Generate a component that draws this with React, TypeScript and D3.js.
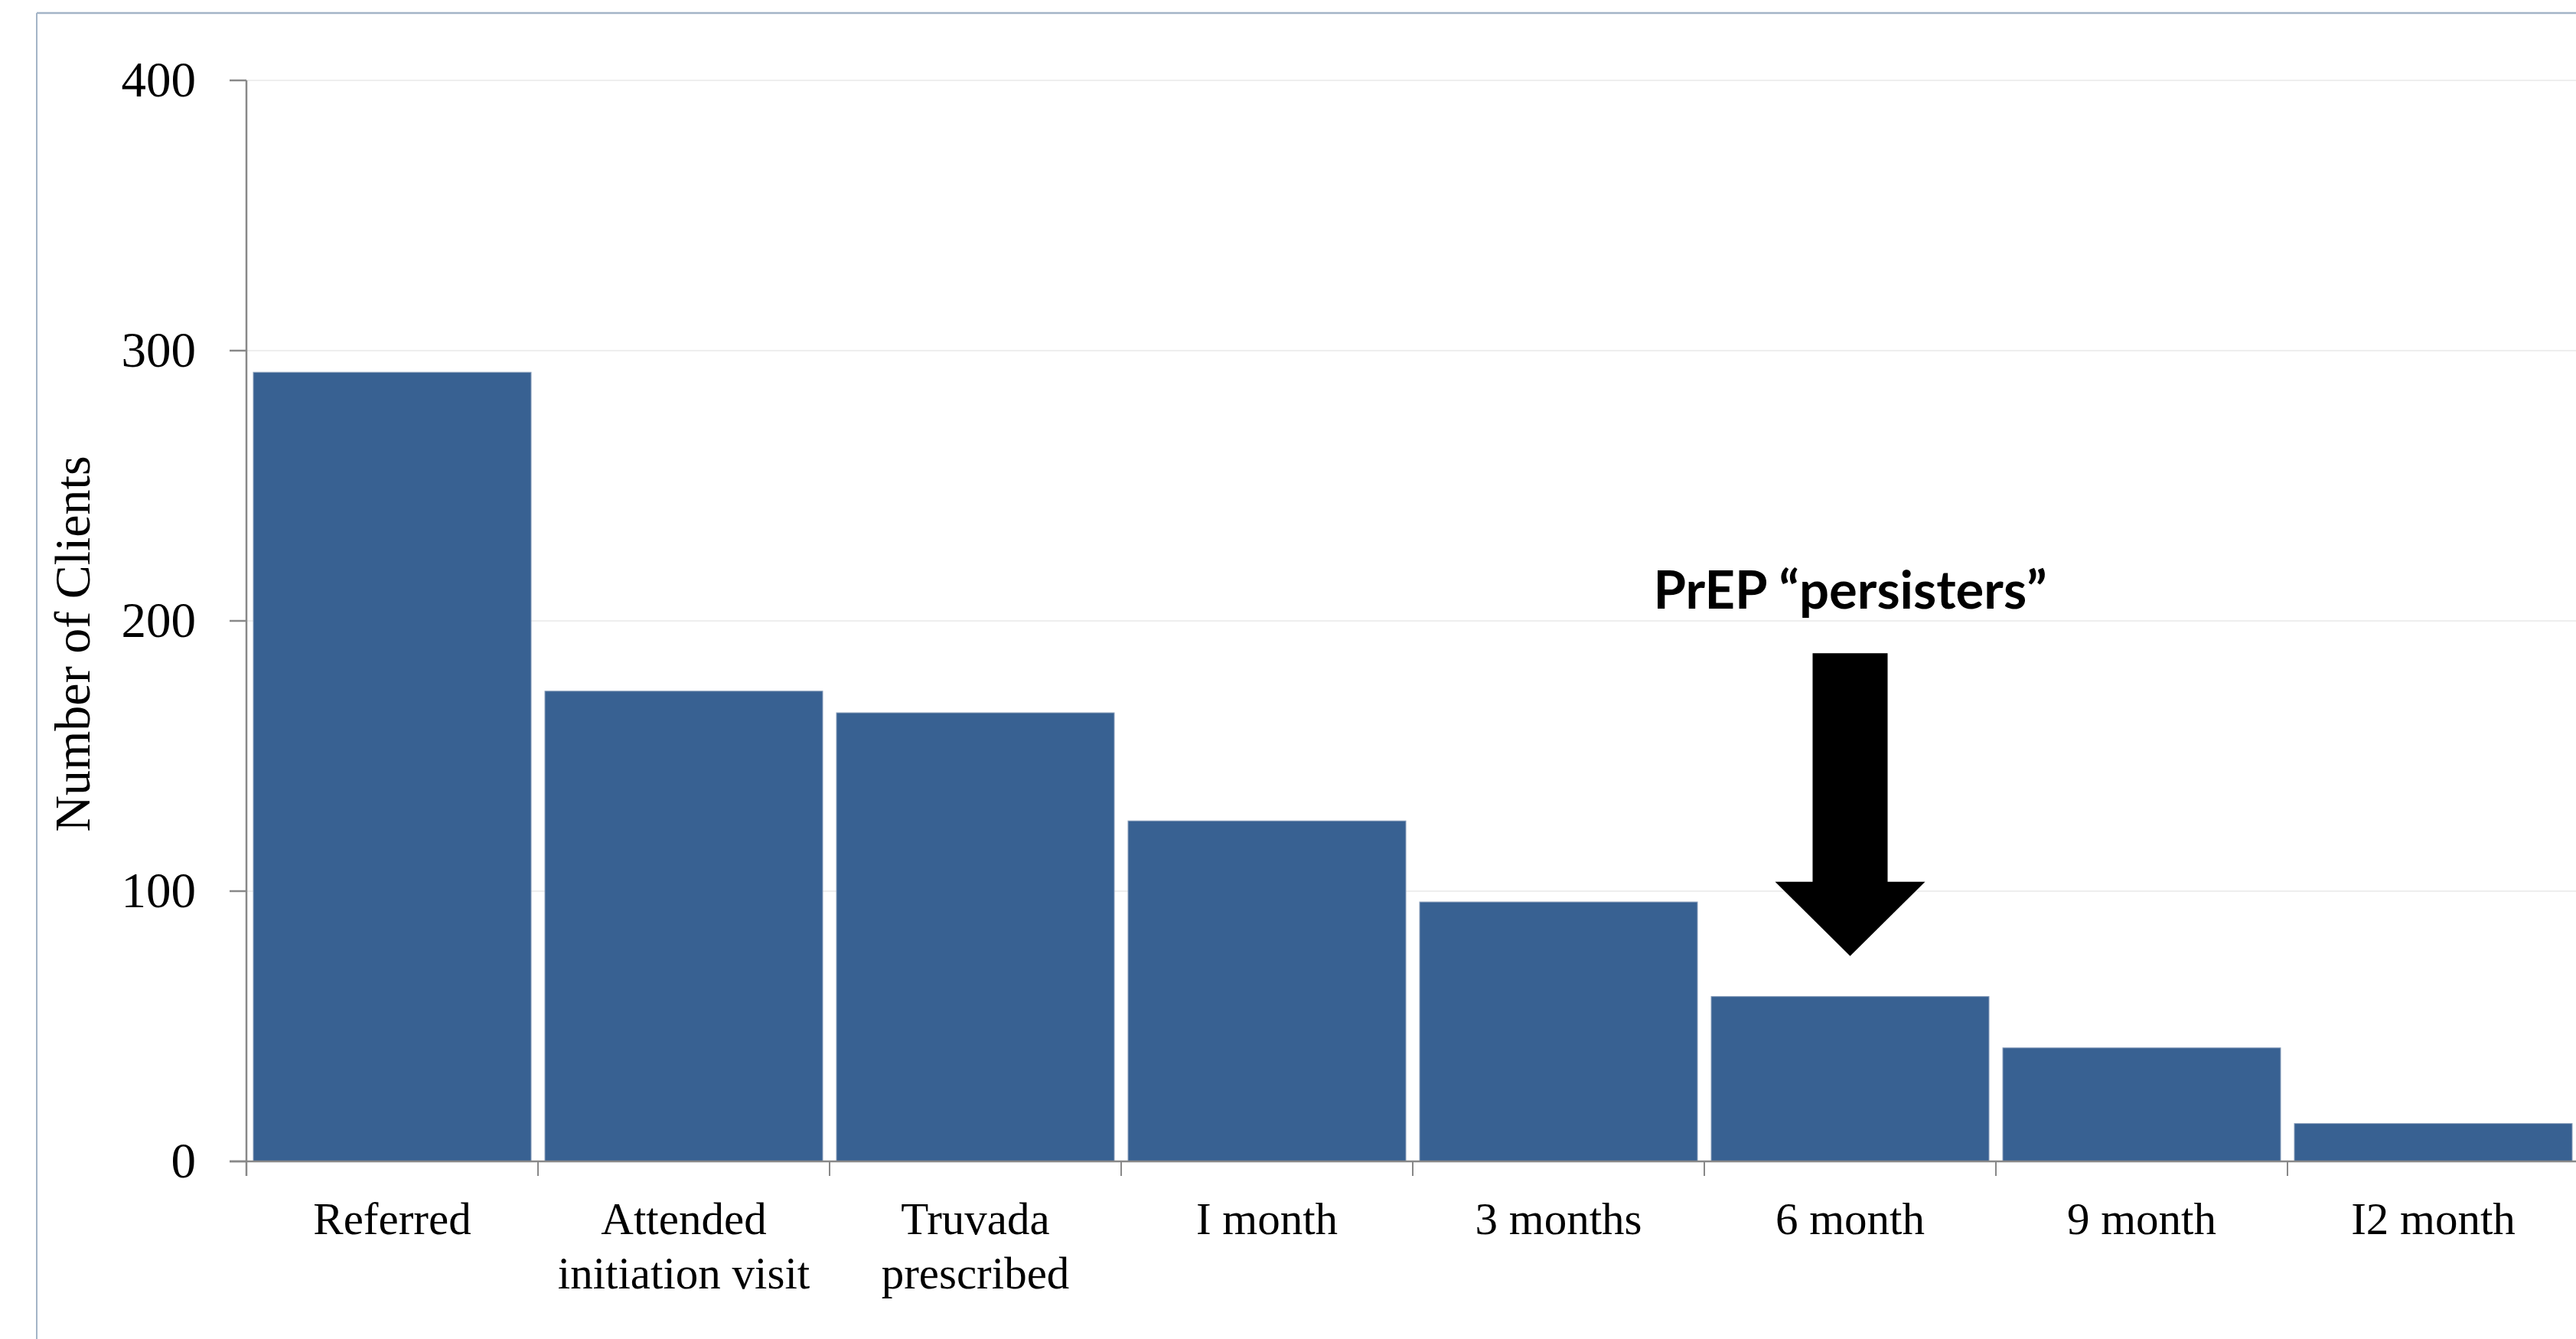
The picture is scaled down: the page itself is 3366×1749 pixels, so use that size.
import React from "react";
import * as d3 from "d3";

const categories = [
  ["Referred"],
  ["Attended", "initiation visit"],
  ["Truvada", "prescribed"],
  ["I month"],
  ["3 months"],
  ["6 month"],
  ["9 month"],
  ["I2 month"],
];
const values = [292, 174, 166, 126, 96, 61, 42, 14];
const yTicks = [0, 100, 200, 300, 400];
const yTitle = "Number of Clients";
const annotationText = "PrEP \u201cpersisters\u201d";
const annotationCategory = 5;
// arrow in data units: shaft top, head base, tip; text baseline
const arrowValues = { top: 188, headBase: 103.5, tip: 76, text: 204.6 };

const W = 3366;
const H = 1749;

export default function App() {
  const keys = categories.map((c) => c.join(" "));
  const x = d3.scaleBand<string>().domain(keys).range([322, 3370]).paddingInner(0).paddingOuter(0);
  const y = d3.scaleLinear().domain([0, 400]).range([1517, 105]);
  const step = x.step();
  const gap = 9;
  const serif = "'Liberation Serif', 'Times New Roman', serif";

  const cx = (x(keys[annotationCategory]) as number) + step / 2;
  const shaftHalf = 49;
  const headHalf = 98;
  const p = d3.path();
  p.moveTo(cx - shaftHalf, y(arrowValues.top));
  p.lineTo(cx + shaftHalf, y(arrowValues.top));
  p.lineTo(cx + shaftHalf, y(arrowValues.headBase));
  p.lineTo(cx + headHalf, y(arrowValues.headBase));
  p.lineTo(cx, y(arrowValues.tip));
  p.lineTo(cx - headHalf, y(arrowValues.headBase));
  p.lineTo(cx - shaftHalf, y(arrowValues.headBase));
  p.closePath();

  const x0 = x.range()[0];
  const axisColor = "#888888";

  return (
    <svg
      width={W}
      height={H}
      style={{ position: "absolute", left: 0, top: 0, background: "#fff" }}
    >
      {/* frame */}
      <line x1={48} y1={17} x2={W} y2={17} stroke="#a3b4c7" strokeWidth={2.5} />
      <line x1={48} y1={17} x2={48} y2={H} stroke="#a3b4c7" strokeWidth={2} />

      {/* gridlines */}
      {yTicks.filter((t) => t > 0).map((t) => (
        <line key={"g" + t} x1={x0} x2={W} y1={y(t)} y2={y(t)} stroke="#eeeeee" strokeWidth={2} />
      ))}

      {/* bars */}
      {values.map((v, i) => (
        <rect
          key={keys[i]}
          x={(x(keys[i]) as number) + gap}
          width={step - 2 * gap}
          y={y(v)}
          height={y(0) - y(v)}
          fill="#386192"
          stroke="#8a9fbb"
          strokeWidth={1}
        />
      ))}

      {/* y axis */}
      <line x1={x0} x2={x0} y1={y(400)} y2={y(0) + 19} stroke={axisColor} strokeWidth={2.5} />
      {yTicks.map((t) => (
        <g key={"yt" + t}>
          <line x1={x0 - 22} x2={x0} y1={y(t)} y2={y(t)} stroke={axisColor} strokeWidth={2.5} />
          <text
            x={256}
            y={y(t)}
            dy="0.33em"
            textAnchor="end"
            fontFamily={serif}
            fontSize={65}
            fill="#000"
          >
            {t}
          </text>
        </g>
      ))}

      {/* x axis */}
      <line x1={x0 - 22} x2={W} y1={y(0)} y2={y(0)} stroke={axisColor} strokeWidth={2.5} />
      {keys.map((k) => (
        <line
          key={"xt" + k}
          x1={x(k) as number}
          x2={x(k) as number}
          y1={y(0)}
          y2={y(0) + 19}
          stroke={axisColor}
          strokeWidth={2}
        />
      ))}
      {categories.map((lines, i) => (
        <text
          key={"xl" + i}
          x={(x(keys[i]) as number) + step / 2}
          y={1612}
          textAnchor="middle"
          fontFamily={serif}
          fontSize={59}
          fill="#000"
        >
          {lines.map((l, j) => (
            <tspan key={j} x={(x(keys[i]) as number) + step / 2} dy={j === 0 ? 0 : 71}>
              {l}
            </tspan>
          ))}
        </text>
      ))}

      {/* y title */}
      <text
        transform={`translate(117, ${y(0) - (y(0) - y(400)) / 2 + 30}) rotate(-90)`}
        textAnchor="middle"
        fontFamily={serif}
        fontSize={66}
        fill="#000"
      >
        {yTitle}
      </text>

      {/* annotation */}
      <text
        x={cx}
        y={y(arrowValues.text)}
        textAnchor="middle"
        fontFamily="Lato, 'Open Sans', sans-serif"
        fontWeight={700}
        fontSize={68}
        textLength={514}
        lengthAdjust="spacingAndGlyphs"
        fill="#000"
      >
        {annotationText}
      </text>
      <path d={p.toString()} fill="#000" />
    </svg>
  );
}
